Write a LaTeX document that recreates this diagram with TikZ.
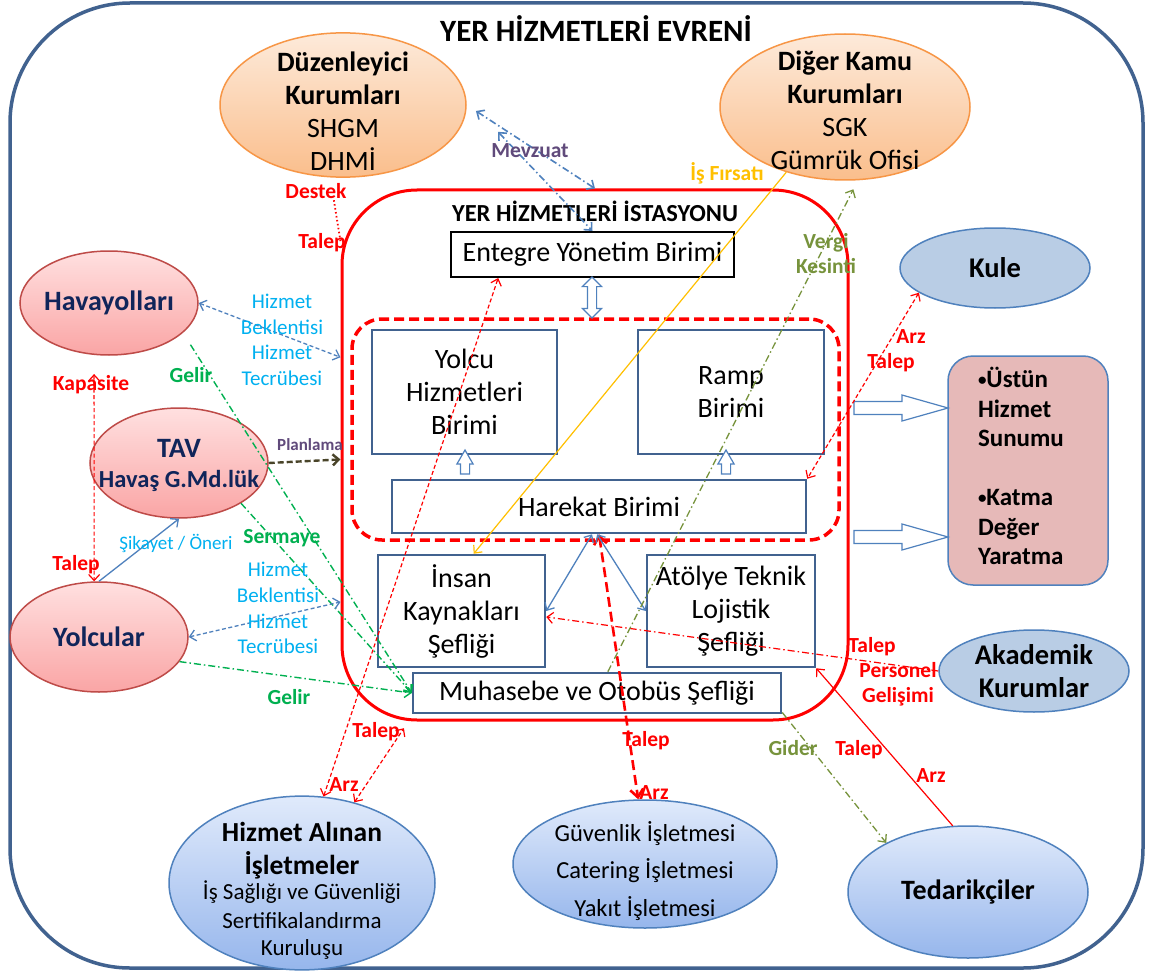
\documentclass[tikz,border=0pt]{standalone}
\usepackage{fontspec}
\setmainfont{Carlito}
\usepackage{tikz}
\usetikzlibrary{arrows.meta,shapes.geometric,shapes.arrows}
\definecolor{yFrame}{RGB}{65,98,143}
\definecolor{yRed}{RGB}{255,0,0}
\definecolor{yBlue}{RGB}{79,129,189}
\definecolor{yCyan}{RGB}{0,176,240}
\definecolor{yGreen}{RGB}{0,176,80}
\definecolor{yOlive}{RGB}{119,147,60}
\definecolor{yPurple}{RGB}{96,74,123}
\definecolor{yGold}{RGB}{255,192,0}
\definecolor{yNavy}{RGB}{16,37,90}
\definecolor{yPlan}{RGB}{73,68,41}
\definecolor{oLine}{RGB}{247,150,70}
\definecolor{oTop}{RGB}{253,234,218}
\definecolor{oBot}{RGB}{250,190,140}
\definecolor{pLine}{RGB}{190,75,72}
\definecolor{pTop}{RGB}{255,224,224}
\definecolor{pBot}{RGB}{250,165,165}
\definecolor{bTop}{RGB}{224,234,251}
\definecolor{bBot}{RGB}{150,182,236}
\definecolor{bFlat}{RGB}{185,205,229}
\definecolor{rFill}{RGB}{230,185,184}
\newcommand{\Fsz}[2]{\fontsize{#1}{#2}\selectfont}
\newcommand{\TopGap}[1]{\rule{0pt}{#1}}
\newcommand{\Dot}{\raisebox{2pt}{\Fsz{17}{17}•}}
\newcommand{\Tag}[4]{% {name}{colour}{at}{text}
  \node[lbl,text=#2] (#1) at (#3) {#4};}
\newcommand{\OutArrow}[1]{% {tail coordinate}
  \draw[hollow] (#1) ++(0,-6.5) -- ++(48,0) -- ++(0,-6.5) -- ++(46,13)
       -- ++(-46,13) -- ++(0,-6.5) -- ++(-48,0) -- cycle;}
\tikzset{
  >={Straight Barb[length=6pt,width=11pt]},
  frame/.style={rectangle, rounded corners=120pt, draw=yFrame, line width=3.5pt},
  station/.style={rectangle, rounded corners=75pt, draw=yRed, line width=3pt},
  opsbox/.style={rectangle, rounded corners=30pt, draw=yRed, line width=3.5pt,
                 dash pattern=on 10pt off 5pt},
  unit/.style={rectangle, draw=yFrame, line width=2.5pt, fill=white, inner sep=0pt,
               align=center, font=\Fsz{28}{33}},
  org/.style={ellipse, draw=oLine, line width=1.5pt, top color=oTop, bottom color=oBot,
              inner xsep=-20pt, inner ysep=-15pt, align=center, font=\Fsz{28}{33}},
  cust/.style={ellipse, draw=pLine, line width=1.5pt, top color=pTop, bottom color=pBot,
               inner xsep=-20pt, inner ysep=-15pt, align=center, text=yNavy,
               font=\bfseries\Fsz{28}{30}},
  ext/.style={ellipse, draw=yBlue, line width=1.5pt, fill=bFlat, inner xsep=-20pt,
              inner ysep=-15pt, align=center, font=\bfseries\Fsz{28.5}{33}},
  supp/.style={ellipse, draw=yBlue, line width=1.5pt, top color=bTop, bottom color=bBot,
               inner xsep=-20pt, inner ysep=-15pt, align=center},
  hollow/.style={draw=yBlue, line width=1.2pt, fill=white},
  lbl/.style={font=\bfseries\Fsz{21.5}{25}, inner sep=0pt, align=center},
  mzFlow/.style={<->, draw=yBlue, line width=1.6pt, dash pattern=on 7pt off 3pt on 1.5pt off 3pt},
  hzFlow/.style={<->, draw=yBlue, line width=1.3pt, dash pattern=on 4pt off 2.5pt},
  rdFlow/.style={<->, draw=yRed, line width=1.2pt, dash pattern=on 4pt off 2.5pt},
  rdThick/.style={{Straight Barb[length=8pt,width=13pt]}-{Straight Barb[length=8pt,width=13pt]},
                  draw=yRed, line width=2.6pt, dash pattern=on 10pt off 5pt},
  rdDot/.style={draw=yRed, line width=1.8pt, dash pattern=on 1.5pt off 2.5pt},
  rdDash/.style={->, draw=yRed, line width=1.2pt, dash pattern=on 7pt off 3pt on 1.5pt off 3pt},
  rdLine/.style={->, draw=yRed, line width=1.2pt},
  grFlow/.style={->, draw=yGreen, line width=1.4pt, dash pattern=on 7pt off 3pt on 1.5pt off 3pt},
  olFlow/.style={->, draw=yOlive, line width=1.3pt, dash pattern=on 7pt off 3pt on 1.5pt off 3pt},
  gdFlow/.style={->, draw=yGold, line width=1.2pt},
  plFlow/.style={->, draw=yPlan, line width=2.4pt, dash pattern=on 6pt off 3pt},
  bluFlow/.style={->, draw=yBlue, line width=1.3pt},
}
\begin{document}
\begin{tikzpicture}[x=1pt,y=-1pt]
  \useasboundingbox[fill=white] (0,0) rectangle (1152,971);
  \node[frame, minimum width=1133pt, minimum height=965pt] (univ) at (576.5,485.5) {};
  \node[font=\bfseries\Fsz{31}{34}] (univT) at (596,29) {YER HİZMETLERİ EVRENİ};

  % istasyon
  \node[station, minimum width=506pt, minimum height=530pt] (stn) at (595,455) {};
  \node[font=\bfseries\Fsz{24.5}{28}] (stnT) at (595,211) {YER HİZMETLERİ İSTASYONU};
  \node[opsbox, minimum width=487pt, minimum height=221pt] (ops) at (595.5,429.5) {};
  \node[unit, draw=black, line width=2pt, minimum width=283pt, minimum height=45pt]
       (eyb) at (592.5,254.5) {Entegre Yönetim Birimi};
  \node[unit, minimum width=185pt, minimum height=124pt] (yhb) at (464.5,392) {Yolcu\\Hizmetleri\\Birimi};
  \node[unit, minimum width=186pt, minimum height=124pt] (rmp) at (731,392) {Ramp\\Birimi};
  \node[unit, minimum width=414pt, minimum height=53pt] (hrk) at (599,506.5) {Harekat Birimi};
  \node[unit, minimum width=167pt, minimum height=112pt] (iks) at (461.5,611) {İnsan\\Kaynakları\\Şefliği};
  \node[unit, minimum width=168pt, minimum height=112pt] (ats) at (731,611) {Atölye Teknik\\Lojistik\\Şefliği};
  \node[unit, minimum width=368pt, minimum height=40pt] (mos) at (597,693) {Muhasebe ve Otobüs Şefliği};

  % paydaslar
  \node[org, minimum width=246pt, minimum height=144pt] (dzn) at (343,105)
       {\TopGap{33pt}\textbf{Düzenleyici}\\\textbf{Kurumları}\\SHGM\\DHMİ};
  \node[org, minimum width=250pt, minimum height=146pt] (dkk) at (845,107)
       {\TopGap{26pt}\textbf{Diğer Kamu}\\\textbf{Kurumları}\\SGK\\Gümrük Ofisi};
  \node[cust, minimum width=178pt, minimum height=104pt] (hvy) at (109,303) {Havayolları};
  \node[cust, minimum width=178pt, minimum height=110pt, font=\bfseries\Fsz{24.5}{30}] (tav) at (179,463)
       {\TopGap{24pt}{\Fsz{28}{30}TAV}\\Havaş G.Md.lük};
  \node[cust, minimum width=178pt, minimum height=110pt] (ylc) at (99,637) {Yolcular};
  \node[ext, minimum width=190pt, minimum height=80pt] (kule) at (995,268) {Kule};
  \node[ext, minimum width=190pt, minimum height=82pt] (akd) at (1034,671) {Akademik\\Kurumlar};
  \node[rectangle, rounded corners=25pt, draw=yBlue, line width=1.5pt, fill=rFill,
        minimum width=160pt, minimum height=229pt, inner sep=0pt, text width=100pt,
        align=left, font=\bfseries\Fsz{25}{29.5}] (ust) at (1028,470.5)
       {\Dot Üstün\\Hizmet\\Sunumu\\[29.5pt]\Dot Katma\\Değer\\Yaratma\rule[-9pt]{0pt}{9pt}};
  \node[supp, minimum width=266pt, minimum height=168pt, font=\Fsz{23}{27}] (hai) at (302,883)
       {\TopGap{35pt}{\bfseries\Fsz{27.5}{33}Hizmet Alınan}\\[6pt]{\bfseries\Fsz{27.5}{33}İşletmeler}\\[-2pt]
        İş Sağlığı ve Güvenliği\\[2pt]Sertifikalandırma\\Kuruluşu};
  \node[supp, minimum width=264pt, minimum height=128pt, font=\Fsz{24.5}{37.5}] (gvn) at (645,864)
       {\TopGap{34pt}Güvenlik İşletmesi\\Catering İşletmesi\\Yakıt İşletmesi};
  \node[supp, minimum width=240pt, minimum height=132pt, font=\bfseries\Fsz{28}{33}] (tdr) at (968,892)
       {Tedarikçiler};

  % ic oklar
  \node[hollow, double arrow, shape border rotate=90, inner sep=4pt, minimum height=41pt,
        double arrow head extend=5pt] (eybOps) at (592,297.5) {};
  \node[hollow, single arrow, shape border rotate=90, inner sep=4pt, minimum height=24pt,
        single arrow head extend=3.5pt, single arrow tip angle=60] (hrkYhb) at (465,466) {};
  \node[hollow, single arrow, shape border rotate=90, inner sep=4pt, minimum height=24pt,
        single arrow head extend=3.5pt, single arrow tip angle=60] (hrkRmp) at (726,466) {};
  \coordinate (outA) at (854,408);
  \coordinate (outB) at (854,537);
  \OutArrow{outA}
  \OutArrow{outB}

  % baglantilar
  \draw[mzFlow, shorten <=11pt] (dzn.east) -- (stn.north);
  \draw[mzFlow, shorten <=46pt] (dzn.3) -- (eyb.north);
  \draw[rdDot, shorten <=23pt] (dzn.-100) -- (stn.140.3);
  \draw[hzFlow] (hvy.east) -- (stn.159.8);
  \draw[rdFlow, shorten <=19pt] (hvy.-106.4) -- (ylc.95.2);
  \draw[grFlow, shorten <=14pt] (hvy.-22.6) -- (mos.west);
  \draw[grFlow] (tav.-33.7) -- (mos.west);
  \draw[grFlow] (ylc.-17.4) -- (mos.west);
  \draw[plFlow] (tav.east) -- (stn.181);
  \draw[bluFlow] (ylc.north) -- (tav.south);
  \draw[hzFlow] (ylc.east) -- (stn.-150.5);
  \draw[rdFlow] (hai.76.5) -- (eyb.-166.3);
  \draw[rdFlow, shorten >=8pt] (hai.57) -- (stn.-125.9);
  \draw[rdThick] (hrk.south) -- (gvn.96);
  \draw[bluFlow, <->] (hrk.-104.8) -- (iks.east);
  \draw[bluFlow, <->] (hrk.-94.3) -- (ats.west);
  \draw[rdDash] (akd.west) -- (iks.-4);
  \draw[rdFlow] (kule.198.9) -- (hrk.north east);
  \draw[rdLine] (tdr.103) -- (ats.south east);
  \draw[olFlow] (mos.-6.6) -- (tdr.149.9);
  \draw[olFlow, shorten >=10pt] (mos.63.4) -- (dkk.-80.5);
  \draw[gdFlow] (dkk.228.3) -- (iks.78.4);

  % etiketler
  \Tag{lMevz}{yPurple}{530,151}{Mevzuat}
  \Tag{lDestek}{yRed}{316,191}{Destek}
  \Tag{lTalepD}{yRed}{322,243}{Talep}
  \Tag{lFirsat}{yGold}{727,173}{İş Fırsatı}
  \Tag{lVergi}{yOlive}{826,254}{Vergi\\Kesinti}
  \node[lbl, font=\Fsz{21}{25.7}, text=yCyan] (lHizA) at (282,340) {Hizmet\\Beklentisi\\Hizmet\\Tecrübesi};
  \node[lbl, font=\Fsz{21}{25.7}, text=yCyan] (lHizB) at (278,608) {Hizmet\\Beklentisi\\Hizmet\\Tecrübesi};
  \node[lbl, font=\Fsz{19}{22}, text=yCyan] (lSikayet) at (176,543) {Şikayet / Öneri};
  \node[lbl, font=\bfseries\Fsz{17}{20}, text=yPurple] (lPlan) at (310,445) {Planlama};
  \Tag{lKap}{yRed}{91,385}{Kapasite}
  \Tag{lGelirA}{yGreen}{191,375}{Gelir}
  \Tag{lTalepY}{yRed}{76,565}{Talep}
  \Tag{lSerm}{yGreen}{282,538}{Sermaye}
  \Tag{lGelirB}{yGreen}{289,697}{Gelir}
  \Tag{lTalepH}{yRed}{376,732}{Talep}
  \Tag{lArzH}{yRed}{344,785}{Arz}
  \Tag{lTalepG}{yRed}{646,741}{Talep}
  \Tag{lArzG}{yRed}{654,793}{Arz}
  \Tag{lGider}{yOlive}{793,748}{Gider}
  \Tag{lTalepT}{yRed}{859,750}{Talep}
  \Tag{lArzT}{yRed}{931,776}{Arz}
  \Tag{lTalepA}{yRed}{872,647}{Talep}
  \Tag{lPers}{yRed}{898,684}{Personel\\Gelişimi}
  \Tag{lArzK}{yRed}{911,337}{Arz}
  \Tag{lTalepK}{yRed}{891,363}{Talep}
\end{tikzpicture}
\end{document}
